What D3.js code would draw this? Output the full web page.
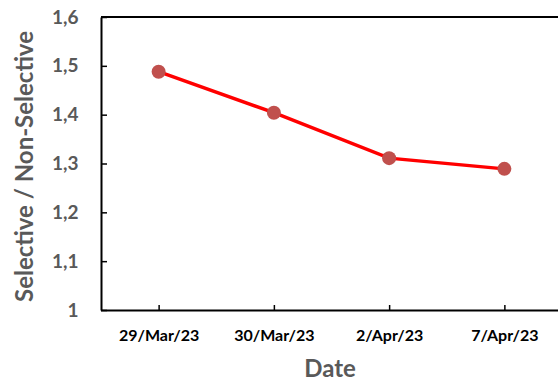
<!DOCTYPE html>
<html><head><meta charset="utf-8">
<script src="https://cdn.jsdelivr.net/npm/d3@7"></script>
<style>body{margin:0;background:#fff}svg{display:block}</style>
</head><body>
<svg id="c" width="558" height="383"></svg>
<script>
const categories = ["29/Mar/23", "30/Mar/23", "2/Apr/23", "7/Apr/23"];
const values = [1.488, 1.404, 1.311, 1.289];
const yTicks = [1, 1.1, 1.2, 1.3, 1.4, 1.5, 1.6];
const yTitle = "Selective / Non-Selective";
const xTitle = "Date";

(function () {
const svg = d3.select("#c");
const mL = 101, mT = 17, mB = 310, mR = 562;
const x = d3.scalePoint().domain(categories).range([mL, mR]).padding(0.5);
const y = d3.scaleLinear().domain([1, 1.6]).range([mB, mT]);
const font = "Lato, 'Open Sans', sans-serif";

svg.append("line").attr("x1", mL).attr("x2", 558).attr("y1", mT).attr("y2", mT)
  .attr("stroke", "#000").attr("stroke-width", 2);

const fmt = d => d === 1 ? "1" : d3.format(".1f")(d).replace(".", ",");
const ya = svg.append("g").attr("transform", `translate(${mL},0)`)
  .call(d3.axisLeft(y).tickValues(yTicks).tickSizeInner(-6).tickSizeOuter(0).tickPadding(22.5).tickFormat(fmt));
ya.select(".domain").attr("stroke", "#000").attr("stroke-width", 2);
ya.selectAll(".tick line").attr("stroke", "#000").attr("stroke-width", 1.5);
ya.selectAll(".tick text").attr("font-family", font).attr("font-weight", "bold")
  .attr("font-size", 19).attr("fill", "#595959");

const xa = svg.append("g").attr("transform", `translate(0,${mB})`)
  .call(d3.axisBottom(x).tickSizeInner(-5).tickSizeOuter(0));
xa.select(".domain").attr("d", `M${mL},0.5H558`).attr("stroke", "#000").attr("stroke-width", 2);
xa.selectAll(".tick line").attr("stroke", "#000").attr("stroke-width", 1.5);
xa.selectAll(".tick text").attr("y", 31).attr("dy", 0).attr("font-family", font).attr("font-weight", "bold")
  .attr("font-size", 16).attr("fill", "#000");

const line = d3.line().x((d, i) => x(categories[i])).y(d => y(d));
svg.append("path").datum(values).attr("d", line).attr("fill", "none")
  .attr("stroke", "#FF0000").attr("stroke-width", 3.5);
svg.selectAll("circle.pt").data(values).enter().append("circle").attr("class", "pt")
  .attr("cx", (d, i) => x(categories[i])).attr("cy", d => y(d)).attr("r", 7)
  .attr("fill", "#C0504D");

svg.append("text").attr("x", 330).attr("y", 376.5).attr("text-anchor", "middle")
  .attr("font-family", font).attr("font-weight", "bold").attr("font-size", 24)
  .attr("fill", "#595959").text(xTitle);
svg.append("text").attr("transform", "translate(33,166.5) rotate(-90)").attr("text-anchor", "middle")
  .attr("font-family", font).attr("font-weight", "bold").attr("font-size", 24)
  .attr("fill", "#595959").text(yTitle);
})();
</script>
</body></html>
